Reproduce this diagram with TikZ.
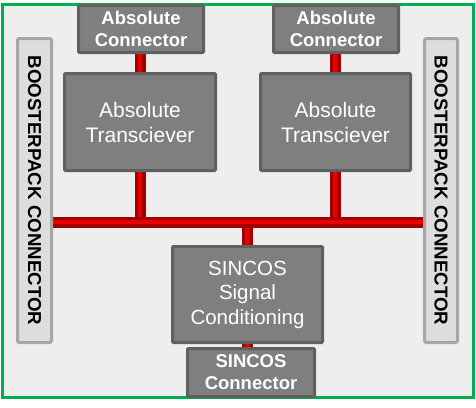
\documentclass[tikz,border=0pt]{standalone}
\usepackage{fontspec}
\setmainfont{Liberation Sans}
\definecolor{boxfill}{HTML}{7F7F7F}
\definecolor{boxline}{HTML}{606060}
\definecolor{bpfill}{HTML}{DDDDDD}
\definecolor{bpline}{HTML}{A6A6A6}
\definecolor{bgfill}{HTML}{EEEEEE}
\definecolor{frame}{HTML}{00B050}
\definecolor{pipedark}{HTML}{A30000}
\definecolor{pipelight}{HTML}{E80000}
\pgfdeclarelayer{backlayer}
\pgfdeclarelayer{pipelayer}
\pgfsetlayers{backlayer,pipelayer,main}
\begin{document}
\begin{tikzpicture}[x=1pt,y=-1pt,
  block/.style={draw=boxline,fill=boxfill,line width=3pt,rounded corners=1pt,
    text=white,align=center,inner sep=0pt},
  connbox/.style={block,minimum width=125pt,minimum height=47pt,
    font=\fontsize{18.5}{22}\selectfont\bfseries},
  transbox/.style={block,minimum width=151pt,minimum height=97pt,
    font=\fontsize{21}{25}\selectfont},
  bpbox/.style={draw=bpline,fill=bpfill,line width=3pt,rounded corners=2pt,
    minimum width=34pt,minimum height=304pt,inner sep=0pt},
  bptext/.style={rotate=-90,font=\fontsize{18.7}{22}\selectfont\bfseries,text=black,inner sep=0pt},
  pipe/.style={draw=pipedark,line width=11pt,
    postaction={draw=pipelight,line width=4pt}}
]
\useasboundingbox (0,0) rectangle (476,407);

% nodes
\node[connbox] (acL) at (141,29) {Absolute\\Connector};
\node[connbox] (acR) at (336,29) {Absolute\\Connector};
\node[transbox] (atL) at (140,122) {Absolute\\Transciever};
\node[transbox,minimum width=150pt] (atR) at (335.5,122) {Absolute\\Transciever};
\node[transbox,minimum width=150pt,minimum height=96pt,font=\fontsize{20.5}{24.5}\selectfont] (sc) at (247.5,294.5) {SINCOS\\Signal\\Conditioning};
\node[connbox,minimum width=127pt,minimum height=48pt] (scc) at (251,372.5) {SINCOS\\Connector};
\node[bpbox] (bpL) at (34.5,190.5) {};
\node[bptext] (bpLt) at (bpL) {BOOSTERPACK CONNECTOR};
\node[bpbox,minimum width=33pt] (bpR) at (441,190.5) {};
\node[bptext] (bpRt) at (bpR) {BOOSTERPACK CONNECTOR};

% junctions on the bus
\coordinate (jL) at (140,222);
\coordinate (jR) at (335,222);
\coordinate (jS) at (247,222);

\begin{pgfonlayer}{pipelayer}
  \path[pipe] (acL.south -| jL) -- (jL);
  \path[pipe] (acR.south -| jR) -- (jR);
  \path[pipe] (jS) -- (scc.north -| jS);
  \path[pipe] (bpL.east |- jL) -- (bpR.west |- jR);
\end{pgfonlayer}

\begin{pgfonlayer}{backlayer}
  \fill[white] (0,0) rectangle (476,407);
  \draw[frame,line width=3pt,fill=bgfill] (2.5,4) rectangle (473,397);
\end{pgfonlayer}
\end{tikzpicture}
\end{document}
